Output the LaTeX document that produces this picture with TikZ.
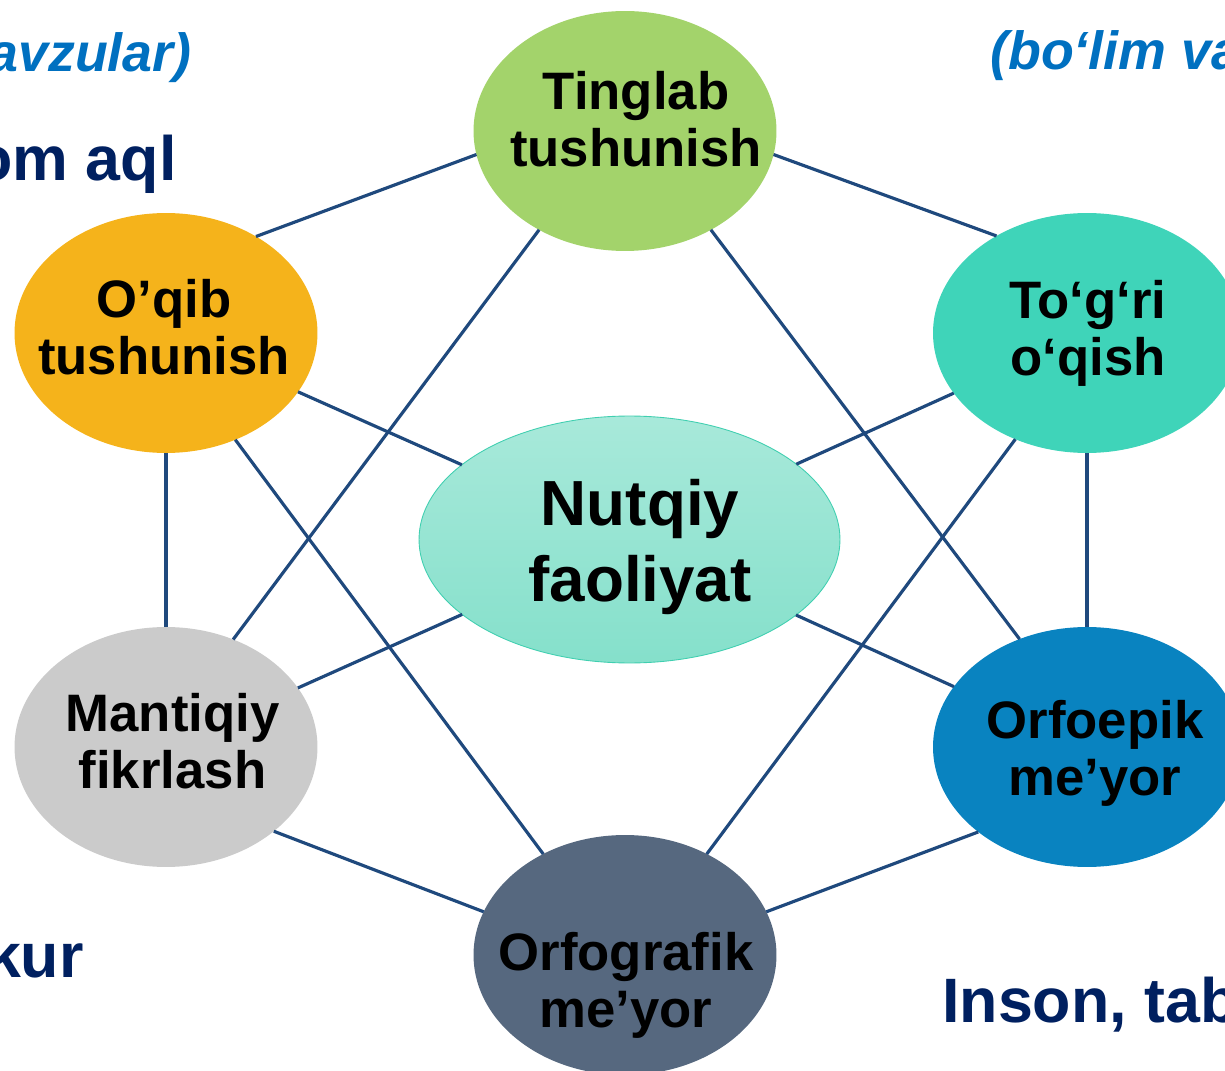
\documentclass[tikz,border=0pt]{standalone}
\usepackage{fontspec}
\setmainfont{Liberation Sans}
\usepackage{xcolor}
\usetikzlibrary{shapes.geometric}

\definecolor{linkblue}{HTML}{1F497D}
\definecolor{tingcol}{HTML}{A3D36B}
\definecolor{oqibcol}{HTML}{F5B31B}
\definecolor{togricol}{HTML}{3FD4B9}
\definecolor{mantcol}{HTML}{CBCBCB}
\definecolor{orfoecol}{HTML}{0983C0}
\definecolor{orfogcol}{HTML}{56687F}
\definecolor{nutqtop}{HTML}{A8E9DA}
\definecolor{nutqbot}{HTML}{85E0CB}
\definecolor{nutqedge}{HTML}{40CFB0}
\definecolor{titlenavy}{HTML}{002060}
\definecolor{titleblue}{HTML}{0070C0}

\begin{document}
\begin{tikzpicture}[x=0.02cm, y=-0.02cm,
		oval/.style={ellipse, inner sep=0pt, outer sep=0pt, minimum width=6.06cm, minimum height=4.8cm},
		ovaltext/.style={align=center, inner sep=0pt, font=\fontsize{30}{32.3}\selectfont\bfseries},
		link/.style={draw=linkblue, line width=1.8pt},
		navytext/.style={inner sep=0pt, text=titlenavy, font=\fontsize{35.7}{40}\selectfont\bfseries},
		bluetext/.style={inner sep=0pt, text=titleblue, font=\fontsize{30.6}{36}\selectfont\bfseries\itshape}]
	\useasboundingbox (0,0) rectangle (1225,1071);
	\clip (0,0) rectangle (1225,1071);

	\node[bluetext, anchor=base east] (mavzu) at (192,72) {avzular)};
	\node[bluetext, anchor=base west] (bolim) at (990,70) {(bo‘lim va};
	\node[navytext, anchor=base east] (aql) at (177,181) {om aql};
	\node[navytext, anchor=base east] (kur) at (84,977) {kur};
	\node[navytext, anchor=base west] (inson) at (942,1022) {Inson, tab};

	\begin{scope}
		\node[oval, fill=tingcol] (tinglab) at (625,131) {};
		\node[oval, fill=oqibcol] (oqib) at (166,333) {};
		\node[oval, fill=togricol, minimum width=6.16cm] (togri) at (1087,333) {};
		\node[oval, fill=mantcol] (mantiqiy) at (166,747) {};
		\node[oval, fill=orfoecol, minimum width=6.16cm] (orfoepik) at (1087,747) {};
		\node[oval, fill=orfogcol] (orfografik) at (625,955) {};
		\node[ellipse, inner sep=0pt, outer sep=0pt, minimum width=8.42cm, minimum height=4.94cm,
			top color=nutqtop, bottom color=nutqbot, draw=nutqedge, line width=0.5pt] (nutqiy) at (629.5,539.5) {};
	\end{scope}

	\draw[link] (tinglab.189) -- (oqib.47);
	\draw[link] (tinglab.351) -- (togri.133);
	\draw[link] (oqib) -- (mantiqiy);
	\draw[link] (togri) -- (orfoepik);
	\draw[link] (mantiqiy.322) -- (orfografik.163);
	\draw[link] (orfoepik.218) -- (orfografik.17);
	\draw[link] (tinglab.229) -- (mantiqiy.58);
	\draw[link] (tinglab.311) -- (orfoepik.122);
	\draw[link] (oqib.303) -- (orfografik.129);
	\draw[link] (togri.236) -- (orfografik.51);
	\draw[link] (oqib) -- (nutqiy);
	\draw[link] (togri) -- (nutqiy);
	\draw[link] (mantiqiy) -- (nutqiy);
	\draw[link] (orfoepik) -- (nutqiy);

	\node[ovaltext] (tinglab-txt) at (636,119.5) {Tinglab\\tushunish};
	\node[ovaltext] (oqib-txt) at (164,327) {O’qib\\tushunish};
	\node[ovaltext] (togri-txt) at (1088,333) {To‘g‘ri\\o‘qish};
	\node[ovaltext] (mantiqiy-txt) at (172.5,741.5) {Mantiqiy\\fikrlash};
	\node[ovaltext] (orfoepik-txt) at (1095,753) {Orfoepik\\me’yor};
	\node[ovaltext] (orfografik-txt) at (626,985.5) {Orfografik\\me’yor};
	\node[ovaltext, font=\fontsize{36.3}{43.7}\selectfont\bfseries] (nutqiy-txt) at (640,547) {Nutqiy\\faoliyat};
\end{tikzpicture}
\end{document}
